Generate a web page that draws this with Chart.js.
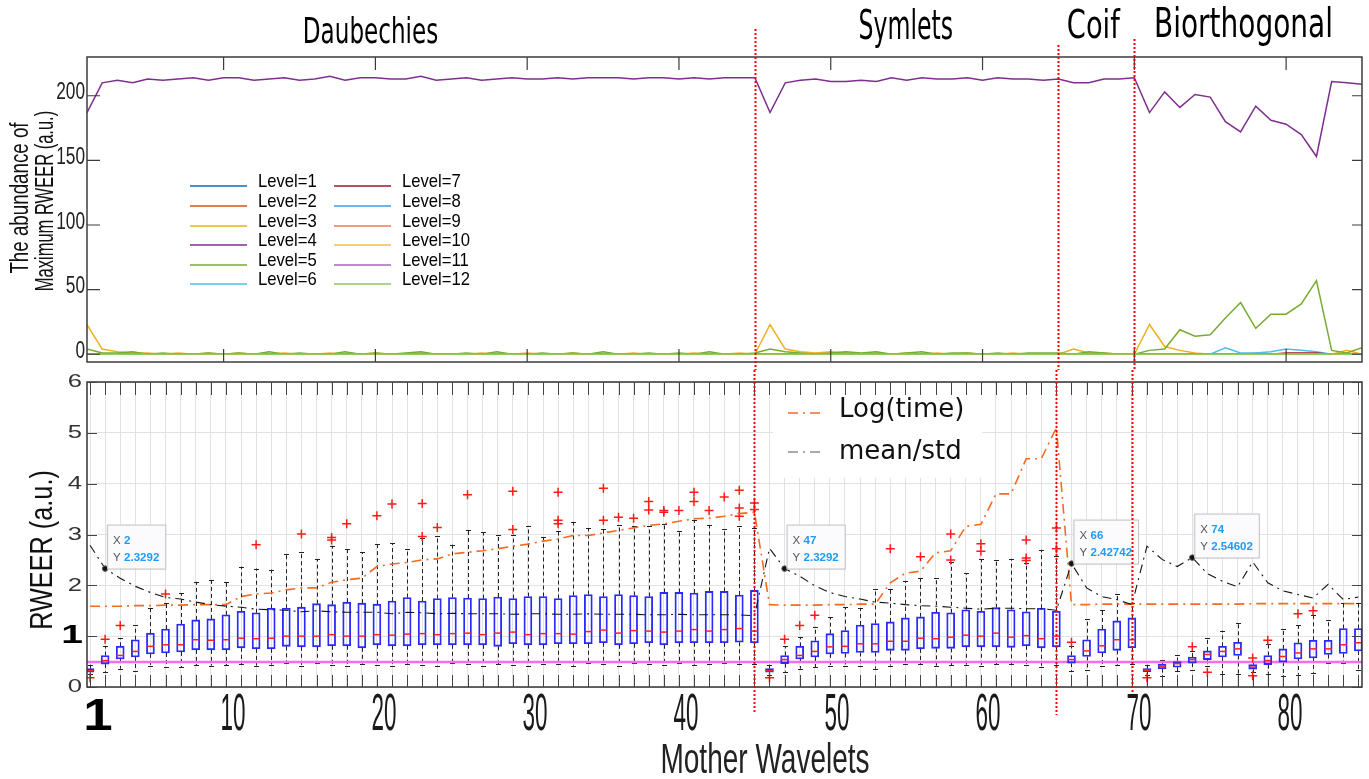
<!DOCTYPE html>
<html>
<head>
<meta charset="utf-8">
<script src="https://cdn.jsdelivr.net/npm/chart.js@4.4.1/dist/chart.umd.min.js"></script>
<style>
html, body { margin: 0; padding: 0; background: #fff; }
#wrap { position: relative; width: 1369px; height: 779px; overflow: hidden; background: #fff; }
#topChart { position: absolute; left: 0; top: 0; }
#boxChart { position: absolute; left: 0; top: 370px; }
</style>
</head>
<body>
<div id="wrap">
  <canvas id="topChart" width="1369" height="370"></canvas>
  <canvas id="boxChart" width="1369" height="409"></canvas>
</div>
<script>
// mother wavelet index (x categories)
const wavelets = Array.from({length: 85}, (_, i) => i + 1);

const familyNames   = ['Daubechies', 'Symlets', 'Coif', 'Biorthogonal'];
const familyCenters = [19.68, 54.95, 67.3, 77.19];
const familySizes   = [35, 40, 39, 40];
const familySquish  = [0.66, 0.59, 0.70, 0.70];
const familyBase    = [43, 39, 38, 37];
const familyBounds  = [45, 65, 70];

// ---- top chart: abundance of maximum RWEER per level ----
const levelNames = ['Level=1','Level=2','Level=3','Level=4','Level=5','Level=6',
                    'Level=7','Level=8','Level=9','Level=10','Level=11','Level=12'];
const levelColors = ['#0072BD','#D95319','#EDB120','#7E2F8E','#77AC30','#4DBEEE',
                     '#A2142F','#3d9be0','#ef7a4a','#f2bf4a','#a866ba','#96c65e'];

const level1  = [0,0,0,0,0,0,0,0,0,0,0,0,0,0,0,0,0,0,0,0,0,0,0,0,0,0,0,0,0,0,0,0,0,0,0,0,0,0,0,0,0,0,0,0,0,0,0,0,0,0,0,0,0,0,0,0,0,0,0,0,0,0,0,0,0,0,0,0,0,0,0,0,0,0,0,0,0,0,0,0,0,0,0,0,0];
const level2  = [0,0,0,0,0,0,0,0,0,0,0,0,0,0,0,0,0,0,0,0,0,0,0,0,0,0,0,0,0,0,0,0,0,0,0,0,0,0,0,0,0,0,0,0,0,0,0,0,0,0,0,0,0,0,0,0,0,0,0,0,0,0,0,0,0,0,0,0,0,0,0,0,0,0,0,0,0,0,0,0,0,0,0,0,0];
const level3  = [23,4,2,1,1,0,1,0,1,0,1,0,0,1,0,0,1,0,0,1,0,0,1,0,0,0,1,0,0,1,0,0,1,0,0,0,1,0,0,0,1,0,0,1,0,
                 23,4,2,1,2,1,0,1,0,1,0,1,0,1,0,0,1,0,0,0,4,1,1,0,0,23,6,3,1,0,0,0,1,0,0,0,0,0,3,0];
const level4  = [187,210,212,210,213,212,213,214,212,214,214,212,213,214,212,213,215,212,214,214,213,213,215,212,213,
                 214,212,213,214,213,213,214,213,214,214,214,213,214,214,213,214,213,214,214,214,
                 187,210,212,213,211,211,212,211,214,
                 212,214,213,213,214,212,214,213,213,212,213,210,210,213,213,214,
                 187,203,191,201,199,180,172,192,181,178,170,153,211,210,209];
const level5  = [4,1,1,2,0,1,0,0,1,0,1,0,2,0,1,0,0,2,0,1,0,1,2,0,0,1,0,2,0,0,1,0,1,0,2,0,0,1,0,1,0,2,0,0,1,
                 4,2,1,0,1,2,1,2,0,1,2,0,1,1,0,1,0,1,1,1,0,2,1,0,0,3,4,19,14,15,28,40,20,31,31,39,57,3,1,5];
const level6  = [0,0,0,0,0,0,0,0,0,0,0,0,0,0,0,0,0,0,0,0,0,0,0,0,0,0,0,0,0,0,0,0,0,0,0,0,0,0,0,0,0,0,0,0,0,
                 0,0,0,0,0,0,0,0,0,0,0,0,0,0,0,0,0,0,0,0,0,0,0,0,0,0,0,0,0,0,5,1,1,2,4,3,2,0,0,0];
const level7  = [0,0,0,0,0,0,0,0,0,0,0,0,0,0,0,0,0,0,0,0,0,0,0,0,0,0,0,0,0,0,0,0,0,0,0,0,0,0,0,0,0,0,0,0,0,0,0,0,0,0,0,0,0,0,0,0,0,0,0,0,0,0,0,0,0,0,0,0,0,0,0,0,0,0,0,0,0,0,0,1,1,1,0,0,0];
const level8  = [0,0,0,0,0,0,0,0,0,0,0,0,0,0,0,0,0,0,0,0,0,0,0,0,0,0,0,0,0,0,0,0,0,0,0,0,0,0,0,0,0,0,0,0,0,0,0,0,0,0,0,0,0,0,0,0,0,0,0,0,0,0,0,0,0,0,0,0,0,0,0,0,0,0,0,0,0,0,0,0,0,0,0,0,0];
const level9  = [0,0,0,0,0,0,0,0,0,0,0,0,0,0,0,0,0,0,0,0,0,0,0,0,0,0,0,0,0,0,0,0,0,0,0,0,0,0,0,0,0,0,0,0,0,0,0,0,0,0,0,0,0,0,0,0,0,0,0,0,0,0,0,0,0,0,0,0,0,0,0,0,0,0,0,0,0,0,0,0,0,0,0,0,0];
const level10 = [0,0,0,0,0,0,0,0,0,0,0,0,0,0,0,0,0,0,0,0,0,0,0,0,0,0,0,0,0,0,0,0,0,0,0,0,0,0,0,0,0,0,0,0,0,0,0,0,0,0,0,0,0,0,0,0,0,0,0,0,0,0,0,0,0,0,0,0,0,0,0,0,0,0,0,0,0,0,0,0,0,0,0,0,0];
const level11 = [0,0,0,0,0,0,0,0,0,0,0,0,0,0,0,0,0,0,0,0,0,0,0,0,0,0,0,0,0,0,0,0,0,0,0,0,0,0,0,0,0,0,0,0,0,0,0,0,0,0,0,0,0,0,0,0,0,0,0,0,0,0,0,0,0,0,0,0,0,0,0,0,0,0,0,0,0,0,0,0,0,0,0,0,0];
const level12 = [0,0,0,0,0,0,0,0,0,0,0,0,0,0,0,0,0,0,0,0,0,0,0,0,0,0,0,0,0,0,0,0,0,0,0,0,0,0,0,0,0,0,0,0,0,0,0,0,0,0,0,0,0,0,0,0,0,0,0,0,0,0,0,0,0,0,0,0,0,0,0,0,0,0,0,0,0,0,0,0,0,0,0,0,0];
const levels = [level1, level2, level3, level4, level5, level6, level7, level8, level9, level10, level11, level12];

const topXTicks = [10, 20, 30, 40, 50, 60, 70, 80];
const topYTicks = [0, 50, 100, 150, 200];

// ---- bottom chart: RWEER box plots ----
const upperW = [0.44,0.80,0.96,1.21,1.55,1.65,1.84,2.07,2.11,2.07,2.37,2.33,2.31,2.62,2.65,2.52,2.78,2.72,2.65,2.81,2.83,2.72,2.94,2.98,2.80,
                3.08,3.04,3.00,3.00,3.17,2.95,3.06,3.25,3.12,3.10,3.19,3.16,3.16,3.21,3.06,3.29,3.18,3.10,3.16,3.13,
                0.44,0.80,0.98,1.19,1.37,1.57,1.55,1.93,1.93,2.09,2.14,2.14,2.46,2.24,2.52,2.49,2.52,2.44,2.70,2.57,
                0.80,1.34,1.51,1.83,1.65,
                0.44,0.54,0.62,0.71,0.96,1.11,1.25,0.50,0.85,1.14,1.21,1.41,1.31,1.65,1.65];
const q3 =     [0.36,0.62,0.80,0.93,1.06,1.14,1.24,1.32,1.34,1.42,1.49,1.46,1.55,1.55,1.57,1.64,1.62,1.67,1.65,1.63,1.69,1.76,1.69,1.74,1.76,
                1.75,1.74,1.77,1.74,1.78,1.78,1.74,1.80,1.82,1.78,1.82,1.80,1.78,1.86,1.86,1.85,1.88,1.88,1.81,1.90,
                0.36,0.62,0.80,0.91,1.05,1.11,1.22,1.25,1.28,1.36,1.38,1.47,1.46,1.52,1.49,1.56,1.52,1.48,1.55,1.49,
                0.62,0.93,1.14,1.30,1.36,
                0.36,0.45,0.50,0.59,0.71,0.80,0.88,0.44,0.62,0.75,0.87,0.92,0.92,1.15,1.15];
const median = [0.32,0.52,0.62,0.70,0.80,0.83,0.83,0.93,0.92,0.93,0.96,0.95,0.96,1.00,1.00,1.00,1.03,1.00,1.00,1.03,1.02,1.04,1.05,1.03,1.05,
                1.06,1.03,1.06,1.08,1.03,1.05,1.05,1.04,1.09,1.12,1.06,1.11,1.10,1.08,1.10,1.13,1.10,1.13,1.15,1.10,
                0.32,0.54,0.62,0.70,0.79,0.80,0.85,0.85,0.90,0.90,0.96,0.95,0.98,1.02,1.00,1.06,0.98,1.01,0.95,1.00,
                0.54,0.71,0.81,0.93,0.93,
                0.33,0.41,0.46,0.54,0.64,0.70,0.75,0.39,0.52,0.60,0.67,0.75,0.75,0.83,0.87];
const q1 =     [0.29,0.45,0.55,0.59,0.65,0.67,0.69,0.73,0.73,0.73,0.77,0.75,0.75,0.80,0.79,0.79,0.81,0.81,0.77,0.83,0.81,0.81,0.83,0.83,0.83,
                0.83,0.83,0.80,0.85,0.83,0.83,0.85,0.85,0.85,0.87,0.83,0.85,0.87,0.83,0.87,0.87,0.87,0.87,0.88,0.87,
                0.29,0.46,0.55,0.59,0.65,0.66,0.68,0.68,0.72,0.72,0.75,0.76,0.76,0.79,0.79,0.79,0.78,0.81,0.77,0.79,
                0.47,0.60,0.67,0.72,0.77,
                0.30,0.36,0.39,0.47,0.54,0.59,0.62,0.35,0.44,0.49,0.55,0.57,0.64,0.66,0.71];
const lowerW = [0.25,0.29,0.36,0.31,0.42,0.39,0.39,0.43,0.42,0.43,0.45,0.42,0.44,0.47,0.42,0.47,0.44,0.41,0.46,0.44,0.41,0.46,0.44,0.41,0.47,
                0.45,0.42,0.45,0.44,0.41,0.45,0.45,0.42,0.47,0.46,0.42,0.47,0.46,0.44,0.47,0.44,0.46,0.47,0.46,0.46,
                0.24,0.30,0.36,0.39,0.42,0.42,0.42,0.36,0.42,0.45,0.45,0.42,0.43,0.44,0.41,0.45,0.45,0.44,0.39,0.44,
                0.31,0.34,0.41,0.43,0.45,
                0.24,0.22,0.31,0.34,0.41,0.26,0.26,0.29,0.26,0.22,0.24,0.28,0.47,0.47,0.34];
const outlierX = [1,2,3,6,12,15,17,17,18,20,21,23,23,24,26,29,29,32,32,32,35,35,36,37,38,38,39,39,40,41,41,42,43,44,44,44,45,45,
                  46,47,48,49,54,56,58,58,60,60,63,63,63,65,65,66,71,74,75,78,78,79,81,82];
const outlierY = [0.18,0.94,1.21,1.83,2.80,3.01,2.94,2.89,3.21,3.37,3.60,3.61,2.96,3.14,3.78,3.85,3.10,3.83,3.28,3.21,3.91,3.28,3.34,3.32,3.65,3.48,3.47,3.44,3.47,3.83,3.65,3.47,3.74,3.87,3.52,3.36,3.62,3.49,
                  0.18,0.94,1.21,1.41,2.72,2.56,3.01,2.50,2.82,2.67,2.89,2.54,2.49,3.13,2.72,0.88,0.18,0.79,0.29,0.57,0.22,0.92,1.44,1.50];
const logTime = [1.59,1.59,1.59,1.60,1.60,1.61,1.61,1.62,1.62,1.62,
                 1.78,1.83,1.85,1.91,1.95,1.95,2.06,2.11,2.14,2.37,2.42,2.45,2.50,2.52,2.62,
                 2.65,2.68,2.72,2.77,2.81,2.87,2.91,2.98,2.98,3.03,3.08,3.13,3.18,3.21,3.26,3.31,3.32,3.36,3.41,3.44,
                 1.62,1.61,1.61,1.61,1.62,1.62,1.63,1.63,
                 2.05,2.24,2.28,2.64,2.68,3.16,3.20,3.80,3.80,4.49,4.49,5.10,
                 1.62,1.62,1.63,1.63,1.63,1.63,1.63,1.63,1.63,1.63,1.63,1.63,1.64,1.64,1.64,1.64,1.64,1.64,1.64,1.64];
const meanStd = [2.79,2.3292,2.14,1.98,1.86,1.76,1.73,1.67,1.62,1.59,1.57,1.53,1.52,1.51,1.48,1.50,1.48,1.47,1.47,1.47,1.44,1.47,1.46,1.44,1.45,
                 1.44,1.44,1.44,1.43,1.44,1.44,1.43,1.43,1.44,1.43,1.43,1.43,1.42,1.42,1.43,1.42,1.42,1.42,1.42,1.40,
                 2.73,2.3292,2.18,1.99,1.86,1.78,1.73,1.67,1.65,
                 1.62,1.60,1.59,1.57,1.55,1.53,1.55,1.55,1.54,1.54,1.51,
                 2.42742,1.95,1.78,1.72,1.62,2.77,2.51,2.37,2.54602,2.23,2.08,1.97,2.46,2.05,1.89,1.82,1.75,2.02,1.72,1.77];
const thresholdY = 0.49;
const tipIdx = [2, 47, 66, 74];
const boxXMin = 0.8, boxXMax = 85.24;
const boxYTicks = [0, 1, 2, 3, 4, 5, 6];
const boxXLabels = [1, 10, 20, 30, 40, 50, 60, 70, 80];

// squeezed text helper (the figure's lettering is condensed)
function txt(ctx, s, x, y, o) {
  ctx.save();
  ctx.translate(x, y);
  if (o.rot) ctx.rotate(o.rot);
  ctx.scale(o.sx || 1, 1);
  ctx.font = o.font;
  ctx.fillStyle = o.color || '#000';
  ctx.textAlign = o.align || 'center';
  ctx.textBaseline = o.base || 'alphabetic';
  ctx.fillText(s, 0, 0);
  ctx.restore();
}

function drawSeparators(chart, yStarts, yEnds) {
  const {ctx, scales: {x}} = chart;
  ctx.save();
  ctx.strokeStyle = '#ff0000';
  ctx.lineWidth = 2;
  ctx.setLineDash([2, 2]);
  familyBounds.forEach((b, i) => {
    const px = Math.round(x.getPixelForValue(b)) + 0.5;
    ctx.beginPath();
    ctx.moveTo(px, yStarts[i]);
    ctx.lineTo(px, yEnds[i]);
    ctx.stroke();
  });
  ctx.restore();
}

const topDecor = {
  id: 'topDecor',
  afterDraw(chart) {
    const {ctx, chartArea: ca, scales: {x, y}} = chart;
    ctx.save();
    ctx.strokeStyle = '#3c3c3c';
    ctx.lineWidth = 1.5;
    ctx.strokeRect(ca.left, ca.top, ca.right - ca.left, ca.bottom - ca.top);
    ctx.lineWidth = 1.2;
    ctx.beginPath();
    topXTicks.forEach(v => {
      const px = x.getPixelForValue(v);
      ctx.moveTo(px, ca.top); ctx.lineTo(px, ca.top + 13);
      ctx.moveTo(px, ca.bottom); ctx.lineTo(px, ca.bottom - 13);
    });
    topYTicks.forEach(v => {
      const py = y.getPixelForValue(v);
      ctx.moveTo(ca.left, py); ctx.lineTo(ca.left + 13, py);
      ctx.moveTo(ca.right, py); ctx.lineTo(ca.right - 10, py);
    });
    ctx.stroke();
    ctx.restore();

    topYTicks.forEach(v => txt(ctx, String(v), ca.left - 2, y.getPixelForValue(v) - 3,
      {font: '24px "Liberation Sans"', sx: 0.72, align: 'right', base: 'middle', color: '#222'}));

    txt(ctx, 'The abundance of', 28, 198, {font: '25px "Liberation Sans"', sx: 0.75, rot: -Math.PI / 2, color: '#111'});
    txt(ctx, 'Maximum RWEER (a.u.)', 53, 201, {font: '25px "Liberation Sans"', sx: 0.66, rot: -Math.PI / 2, color: '#111'});

    // legend, two columns of six
    const colX = [190, 334], rowY = [186, 206, 226, 245, 265, 284];
    ctx.save();
    ctx.lineWidth = 1.6;
    levelNames.forEach((name, i) => {
      const cx = colX[Math.floor(i / 6)], ry = rowY[i % 6];
      ctx.strokeStyle = levelColors[i];
      ctx.beginPath(); ctx.moveTo(cx, ry); ctx.lineTo(cx + 57, ry); ctx.stroke();
      txt(ctx, name, cx + 68, ry - 4, {font: '18.5px "Liberation Sans"', sx: 0.9, align: 'left', base: 'middle', color: '#000'});
    });
    ctx.restore();

    familyNames.forEach((n, i) => txt(ctx, n, x.getPixelForValue(familyCenters[i]), familyBase[i],
      {font: familySizes[i] + 'px "DejaVu Sans"', sx: familySquish[i], color: '#000'}));

    drawSeparators(chart, [29, 45, 39], [370, 370, 370]);
  }
};

new Chart(document.getElementById('topChart'), {
  type: 'line',
  data: {
    datasets: levels.map((vals, i) => ({
      label: levelNames[i],
      data: vals.map((v, j) => ({x: wavelets[j], y: v})),
      borderColor: levelColors[i],
      borderWidth: 1.5,
      pointRadius: 0,
      tension: 0,
      fill: false,
      order: levels.length - i
    }))
  },
  options: {
    responsive: false,
    animation: false,
    devicePixelRatio: 1,
    events: [],
    layout: {padding: {left: 87, right: 7, top: 57, bottom: 8}},
    scales: {
      x: {type: 'linear', min: 1, max: 85, display: false},
      y: {type: 'linear', min: -6, max: 230, display: false}
    },
    plugins: {legend: {display: false}, tooltip: {enabled: false}}
  },
  plugins: [topDecor]
});

// whiskers go under the boxes
const whiskers = {
  id: 'whiskers',
  beforeDatasetsDraw(chart) {
    const {ctx, chartArea: ca, scales: {x, y}} = chart;
    ctx.save();
    ctx.beginPath();
    ctx.rect(ca.left, ca.top, ca.right - ca.left, ca.bottom - ca.top);
    ctx.clip();
    ctx.strokeStyle = '#222';
    ctx.lineWidth = 1;
    wavelets.forEach((k, j) => {
      const px = Math.round(x.getPixelForValue(k)) + 0.5;
      ctx.setLineDash([4, 3]);
      ctx.beginPath();
      ctx.moveTo(px, y.getPixelForValue(q3[j])); ctx.lineTo(px, y.getPixelForValue(upperW[j]));
      ctx.moveTo(px, y.getPixelForValue(q1[j])); ctx.lineTo(px, y.getPixelForValue(lowerW[j]));
      ctx.stroke();
      ctx.setLineDash([]);
      ctx.beginPath();
      [upperW[j], lowerW[j]].forEach(v => {
        const py = Math.round(y.getPixelForValue(v)) + 0.5;
        ctx.moveTo(px - 2.5, py); ctx.lineTo(px + 2.5, py);
      });
      ctx.stroke();
    });
    ctx.restore();
  }
};

const boxDecor = {
  id: 'boxDecor',
  afterDraw(chart) {
    const {ctx, chartArea: ca, scales: {x, y}} = chart;

    // legend
    ctx.save();
    ctx.fillStyle = '#fff';
    ctx.fillRect(773, 13, 209, 95);
    ctx.lineWidth = 1.6;
    ctx.strokeStyle = '#f26b21';
    ctx.setLineDash([10, 5, 2, 5]);
    ctx.beginPath(); ctx.moveTo(788, 43); ctx.lineTo(822, 43); ctx.stroke();
    ctx.strokeStyle = '#555';
    ctx.lineWidth = 1.2;
    ctx.beginPath(); ctx.moveTo(788, 82); ctx.lineTo(822, 82); ctx.stroke();
    ctx.restore();
    txt(ctx, 'Log(time)', 839, 40, {font: '26px "DejaVu Sans"', align: 'left', base: 'middle', color: '#111'});
    txt(ctx, 'mean/std', 839, 82, {font: '26px "DejaVu Sans"', align: 'left', base: 'middle', color: '#111'});

    // data tips
    tipIdx.forEach(k => {
      const v = meanStd[k - 1];
      const px = x.getPixelForValue(k), py = y.getPixelForValue(v);
      ctx.save();
      ctx.font = 'bold 11.5px "Liberation Sans"';
      const w = Math.max(ctx.measureText(String(v)).width, ctx.measureText(String(k)).width) + 23;
      const left = px + 2, top = py - 44;
      ctx.shadowColor = 'rgba(0,0,0,0.12)';
      ctx.shadowBlur = 2;
      ctx.fillStyle = '#fbfbfd';
      ctx.fillRect(left, top, w, 44);
      ctx.shadowColor = 'transparent';
      ctx.strokeStyle = '#c4c4c4';
      ctx.lineWidth = 1;
      ctx.strokeRect(left + 0.5, top + 0.5, w, 44);
      ctx.restore();
      txt(ctx, 'X', left + 6, top + 19, {font: '11.5px "Liberation Sans"', align: 'left', color: '#555'});
      txt(ctx, 'Y', left + 6, top + 36, {font: '11.5px "Liberation Sans"', align: 'left', color: '#555'});
      txt(ctx, String(k), left + 17, top + 19, {font: 'bold 11.5px "Liberation Sans"', align: 'left', color: '#1e9bf5'});
      txt(ctx, String(v), left + 17, top + 36, {font: 'bold 11.5px "Liberation Sans"', align: 'left', color: '#1e9bf5'});
    });

    // frame and inward ticks
    ctx.save();
    ctx.strokeStyle = '#333';
    ctx.lineWidth = 1.5;
    ctx.strokeRect(ca.left, ca.top, ca.right - ca.left, ca.bottom - ca.top);
    ctx.lineWidth = 1;
    ctx.strokeStyle = '#444';
    ctx.beginPath();
    wavelets.forEach(k => {
      const px = Math.round(x.getPixelForValue(k)) + 0.5;
      if (px <= ca.left || px >= ca.right) return;
      ctx.moveTo(px, ca.top); ctx.lineTo(px, ca.top + 13);
      ctx.moveTo(px, ca.bottom); ctx.lineTo(px, ca.bottom - 12);
    });
    boxYTicks.forEach(v => {
      const py = Math.round(y.getPixelForValue(v)) + 0.5;
      ctx.moveTo(ca.left, py); ctx.lineTo(ca.left + 10, py);
      ctx.moveTo(ca.right, py); ctx.lineTo(ca.right - 10, py);
    });
    ctx.stroke();
    ctx.restore();

    // tick labels
    boxYTicks.forEach(v => {
      const py = y.getPixelForValue(v);
      if (v === 1) txt(ctx, '1', ca.left - 4, py, {font: 'bold 26px "Liberation Sans"', sx: 1.5, align: 'right', base: 'middle', color: '#000'});
      else txt(ctx, String(v), ca.left - 5, py, {font: '19px "Liberation Sans"', sx: 1.35, align: 'right', base: 'middle', color: '#333'});
    });
    boxXLabels.forEach(v => {
      const px = x.getPixelForValue(v) + 7;
      if (v === 1) txt(ctx, '1', px + 1, 360, {font: 'bold 44px "Liberation Sans"', sx: 1.2, color: '#000'});
      else txt(ctx, String(v), px, 360, {font: '51px "Liberation Sans"', sx: 0.44, color: '#1a1a1a'});
    });

    txt(ctx, 'Mother Wavelets', 765, 403, {font: '42px "Liberation Sans"', sx: 0.667, color: '#222'});
    txt(ctx, 'RWEER (a.u.)', 52, 180, {font: '32px "Liberation Sans"', sx: 0.79, rot: -Math.PI / 2, color: '#111'});

    drawSeparators(chart, [0, 0, 0], [342, 345, 322]);
  }
};

new Chart(document.getElementById('boxChart'), {
  type: 'bar',
  data: {
    datasets: [
      {
        type: 'line', label: 'threshold',
        data: [{x: boxXMin, y: thresholdY}, {x: boxXMax, y: thresholdY}],
        borderColor: '#f46ef4', borderWidth: 2.5, pointRadius: 0, order: 9
      },
      {
        type: 'bar', label: 'boxes',
        data: wavelets.map((k, j) => ({x: k, y: [q1[j], q3[j]]})),
        backgroundColor: 'rgba(0,0,0,0)', borderColor: '#2a2aff', borderWidth: 1.2,
        borderSkipped: false, barThickness: 8, order: 8
      },
      {
        type: 'scatter', label: 'median',
        data: wavelets.map((k, j) => ({x: k, y: median[j]})),
        pointStyle: 'line', pointRadius: 3.5, borderColor: '#ff2020', borderWidth: 1.5, order: 7
      },
      {
        type: 'scatter', label: 'outliers',
        data: outlierX.map((k, j) => ({x: k, y: outlierY[j]})),
        pointStyle: 'cross', pointRadius: 4.5, borderColor: '#ff1a1a', borderWidth: 1.5, order: 6
      },
      {
        type: 'line', label: 'Log(time)',
        data: logTime.map((v, j) => ({x: wavelets[j], y: v})),
        borderColor: '#f26b21', borderWidth: 1.6, borderDash: [10, 5, 2, 5], pointRadius: 0, tension: 0, order: 5
      },
      {
        type: 'line', label: 'mean/std',
        data: meanStd.map((v, j) => ({x: wavelets[j], y: v})),
        borderColor: '#151515', borderWidth: 1.1, borderDash: [9, 5, 2, 5], pointRadius: 0, tension: 0, order: 4
      },
      {
        type: 'scatter', label: 'tips',
        data: tipIdx.map(k => ({x: k, y: meanStd[k - 1]})),
        pointRadius: 2.8, backgroundColor: '#111', borderColor: '#666', borderWidth: 1, order: 3
      }
    ]
  },
  options: {
    responsive: false,
    animation: false,
    devicePixelRatio: 1,
    events: [],
    layout: {padding: {left: 87, right: 7, top: 12, bottom: 92}},
    scales: {
      x: {
        type: 'linear', min: boxXMin, max: boxXMax, offset: false,
        afterBuildTicks: s => { s.ticks = wavelets.map(v => ({value: v})); },
        ticks: {display: false},
        grid: {color: '#e2e2e2', lineWidth: 1, drawTicks: false, offset: false},
        border: {display: false}
      },
      y: {
        type: 'linear', min: 0, max: 6,
        ticks: {display: false, stepSize: 1},
        grid: {color: '#e2e2e2', lineWidth: 1, drawTicks: false},
        border: {display: false}
      }
    },
    plugins: {legend: {display: false}, tooltip: {enabled: false}}
  },
  plugins: [whiskers, boxDecor]
});
</script>
</body>
</html>
